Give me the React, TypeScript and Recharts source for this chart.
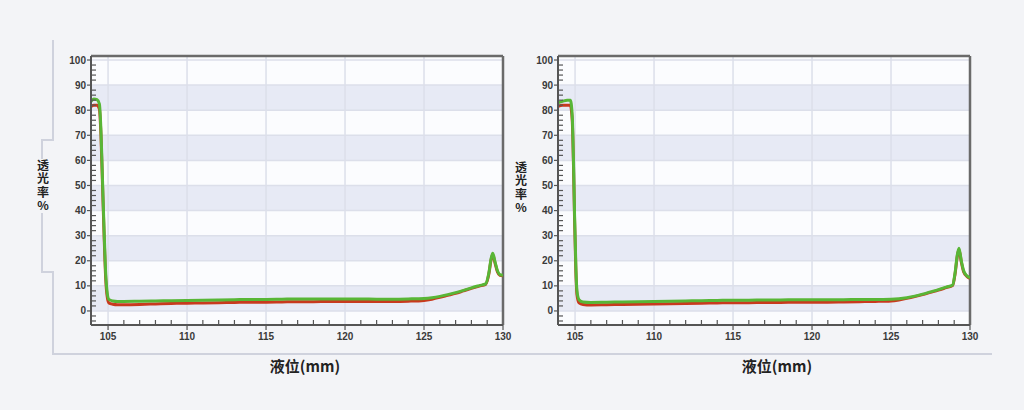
import React from 'react';
import { LineChart, Line, XAxis, YAxis, CartesianGrid, ReferenceLine } from 'recharts';

// liquid level (mm) sample positions and transmittance (%) per panel
const leftPos = [103.92, 104.1, 104.3, 104.45, 104.55, 104.65, 104.75, 104.85, 104.95, 105.05, 105.3, 105.6, 106, 107, 108, 109, 110, 111, 112, 113, 114, 115, 116, 117, 118, 119, 120, 121, 122, 123, 124, 125, 125.5, 126, 126.5, 127, 127.5, 128, 128.5, 128.9, 129.1, 129.25, 129.35, 129.5, 129.65, 129.8, 130];
const leftGreen = [83.5, 84.5, 84.2, 82.5, 72, 52, 32, 15, 7, 4.6, 4.0, 3.8, 3.8, 3.9, 4.0, 4.1, 4.2, 4.3, 4.4, 4.5, 4.6, 4.6, 4.7, 4.8, 4.8, 4.8, 4.8, 4.8, 4.7, 4.7, 4.8, 5.0, 5.3, 5.8, 6.5, 7.3, 8.2, 9.2, 10.1, 10.8, 15, 21, 23, 19.5, 16, 14.5, 14.2];
const leftRed = [81.5, 82, 82, 80.5, 70, 50, 30, 13, 5.5, 3.2, 2.7, 2.5, 2.5, 2.6, 2.8, 3.0, 3.1, 3.2, 3.3, 3.4, 3.5, 3.5, 3.6, 3.7, 3.7, 3.8, 3.8, 3.8, 3.8, 3.8, 3.9, 4.2, 4.7, 5.4, 6.2, 7.0, 8.0, 9.0, 9.9, 10.6, 14.5, 20.5, 22.5, 19, 15.5, 14.2, 14];

const rightPos = [103.92, 104.2, 104.5, 104.7, 104.82, 104.9, 104.97, 105.05, 105.12, 105.25, 105.5, 106, 107, 108, 109, 110, 111, 112, 113, 114, 115, 116, 117, 118, 119, 120, 121, 122, 123, 124, 125, 125.5, 126, 126.5, 127, 127.5, 128, 128.5, 128.9, 129.05, 129.2, 129.3, 129.45, 129.6, 129.8, 130];
const rightGreen = [83, 83.5, 84, 84, 78, 60, 38, 18, 8, 4.5, 3.6, 3.4, 3.5, 3.6, 3.7, 3.8, 3.9, 4.0, 4.1, 4.2, 4.3, 4.3, 4.4, 4.4, 4.5, 4.5, 4.5, 4.5, 4.6, 4.6, 4.7, 4.9, 5.3, 5.9, 6.7, 7.6, 8.5, 9.5, 10.3, 15, 22.5, 25, 20, 16, 14, 13.2];
const rightRed = [81.5, 82, 82, 82, 76, 58, 36, 16, 6.5, 3.2, 2.6, 2.4, 2.5, 2.6, 2.7, 2.8, 2.9, 3.0, 3.1, 3.2, 3.3, 3.3, 3.4, 3.4, 3.5, 3.5, 3.5, 3.6, 3.7, 3.8, 4.0, 4.4, 5.0, 5.7, 6.5, 7.4, 8.3, 9.3, 10.1, 14.5, 22, 24.5, 19.5, 15.5, 13.8, 13];

// every tick position; labelled ones are in the major lists
const xTicks = [105, 106, 107, 108, 109, 110, 111, 112, 113, 114, 115, 116, 117, 118, 119, 120, 121, 122, 123, 124, 125, 126, 127, 128, 129, 130];
const xMajor = [105, 110, 115, 120, 125, 130];
const xGrid = [105, 110, 115, 120, 125];
const yTicks = [-4, -2, 0, 2, 4, 6, 8, 10, 12, 14, 16, 18, 20, 22, 24, 26, 28, 30, 32, 34, 36, 38, 40, 42, 44, 46, 48, 50, 52, 54, 56, 58, 60, 62, 64, 66, 68, 70, 72, 74, 76, 78, 80, 82, 84, 86, 88, 90, 92, 94, 96, 98, 100];
const yMajor = [0, 10, 20, 30, 40, 50, 60, 70, 80, 90, 100];

const X_DOMAIN = [103.92, 130];
const Y_DOMAIN = [-5.6, 101.6];

const BAND = '#e7eaf5';
// stripes from the top: above 100, 100-90, 90-80 ... 10-0, below 0
const stripeFill = ['none', 'none', BAND, 'none', BAND, 'none', BAND, 'none', BAND, 'none', BAND, 'none'];

const labelStyle = { fontSize: 10, fill: '#3a3a3a', fontWeight: 700, fontFamily: 'Liberation Sans, Arial, sans-serif' };

// major ticks point out with a label, minor ones point into the plot
const XTick = (p: any) => {
  const v = p.payload.value;
  const major = xMajor.includes(v);
  return (
    <g>
      <line x1={p.x} x2={p.x} y1={p.y} y2={major ? p.y + 5 : p.y - 5} stroke="#555" strokeWidth={1.2} />
      {major && <text x={p.x} y={p.y + 15} textAnchor="middle" {...labelStyle}>{v}</text>}
    </g>
  );
};

const YTick = (p: any) => {
  const v = p.payload.value;
  const major = yMajor.includes(v);
  return (
    <g>
      <line x1={p.x} x2={major ? p.x - 4 : p.x + 5} y1={p.y} y2={p.y} stroke="#555" strokeWidth={1.2} />
      {major && <text x={p.x - 5} y={p.y + 3.5} textAnchor="end" {...labelStyle}>{v}</text>}
    </g>
  );
};

const Panel = ({ left, pos, green, red }: { left: number; pos: number[]; green: number[]; red: number[] }) => {
  const data = pos.map((x, i) => ({ x, green: green[i], red: red[i] }));
  return (
    <div style={{ position: 'absolute', left, top: 40 }}>
      <LineChart width={480} height={340} data={data} margin={{ top: 16, right: 17, left: 11, bottom: 35 }}>
        <CartesianGrid xAxisId="grid" yAxisId="grid" fill="#fbfcfe" stroke="#dcdfea" strokeWidth={1.5} horizontalFill={stripeFill} />
        <XAxis xAxisId="grid" hide type="number" dataKey="x" domain={X_DOMAIN} allowDataOverflow ticks={xGrid} interval={0} />
        <YAxis yAxisId="grid" hide type="number" domain={Y_DOMAIN} allowDataOverflow ticks={yMajor} interval={0} />
        <XAxis type="number" dataKey="x" domain={X_DOMAIN} allowDataOverflow ticks={xTicks} interval={0}
          height={20} tickSize={0} tickMargin={0} tick={<XTick />} tickLine={false}
          axisLine={{ stroke: '#555', strokeWidth: 2 }} />
        <YAxis type="number" domain={Y_DOMAIN} allowDataOverflow ticks={yTicks} interval={0}
          width={40} tickSize={0} tickMargin={0} tick={<YTick />} tickLine={false}
          axisLine={{ stroke: '#555', strokeWidth: 2 }} />
        <ReferenceLine y={Y_DOMAIN[1]} stroke="#6a6a6a" strokeWidth={2.5} ifOverflow="visible" />
        <ReferenceLine x={130} stroke="#6a6a6a" strokeWidth={2.5} ifOverflow="visible" />
        <Line type="monotone" dataKey="red" stroke="#c83a1e" strokeWidth={3} dot={false} isAnimationActive={false} />
        <Line type="monotone" dataKey="green" stroke="#58b636" strokeWidth={3} dot={false} isAnimationActive={false} />
      </LineChart>
    </div>
  );
};

const YTitle = ({ cx, top }: { cx: number; top: number }) => (
  <div style={{ position: 'absolute', left: cx - 8, top, width: 16, background: '#f3f4f7', writingMode: 'vertical-rl', textOrientation: 'upright', fontFamily: 'Noto Sans CJK SC', fontWeight: 700, fontSize: 12, lineHeight: '16px', letterSpacing: 1.5, color: '#222' }}>
    透光率%
  </div>
);

const XTitle = ({ cx }: { cx: number }) => (
  <div style={{ position: 'absolute', left: cx - 60, top: 355, width: 120, textAlign: 'center', fontFamily: 'Noto Sans CJK SC', fontWeight: 700, fontSize: 15, color: '#222' }}>
    液位(mm)
  </div>
);

const line = (left: number, top: number, width: number, height: number) => (
  <div style={{ position: 'absolute', left, top, width, height, background: '#cfd2dd' }} />
);

export default function App() {
  return (
    <div style={{ position: 'absolute', left: 0, top: 0, width: 1024, height: 410, background: '#f3f4f7', overflow: 'hidden' }}>
      {line(52, 40, 2, 101)}
      {line(41, 139, 13, 2)}
      {line(41, 139, 2, 134)}
      {line(41, 271, 13, 2)}
      {line(52, 271, 2, 84)}
      {line(52, 353, 940, 2)}
      <Panel left={40} pos={leftPos} green={leftGreen} red={leftRed} />
      <Panel left={507} pos={rightPos} green={rightGreen} red={rightRed} />
      <YTitle cx={42.5} top={159} />
      <YTitle cx={520.5} top={161} />
      <XTitle cx={305} />
      <XTitle cx={777} />
    </div>
  );
}
